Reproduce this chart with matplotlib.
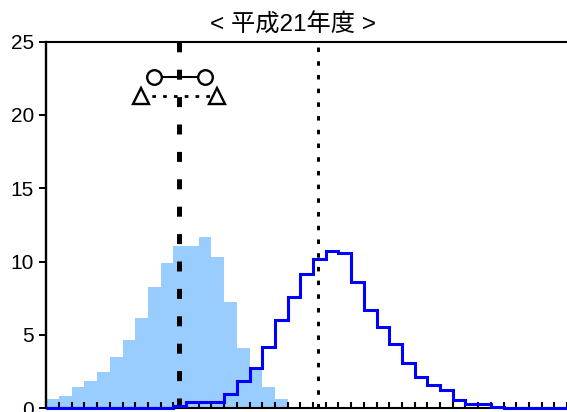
import numpy as np
import matplotlib
matplotlib.use("Agg")
import matplotlib.pyplot as plt

# Score-class frequency (%) for two groups, one value per class interval
class_edges = np.arange(0, 42)  # 41 class intervals
group_a = [0.63, 0.86, 1.47, 1.86, 2.47, 3.50, 4.68, 6.16, 8.27, 9.90,
           11.09, 11.09, 11.70, 10.34, 7.27, 4.13, 2.80, 1.47, 0.63, 0.10,
           0.10, 0, 0, 0, 0, 0, 0, 0, 0, 0,
           0, 0, 0, 0, 0, 0, 0, 0, 0, 0, 0]
group_b = [0, 0, 0, 0, 0, 0, 0, 0, 0, 0,
           0.15, 0.41, 0.41, 0.41, 0.97, 1.86, 2.72, 4.15, 6.02, 7.57,
           9.18, 10.18, 10.74, 10.61, 8.59, 6.72, 5.56, 4.40, 3.12, 2.16,
           1.58, 1.28, 0.55, 0.28, 0.28, 0.10, 0, 0, 0, 0, 0]

mean_a = 10.46
mean_b = 21.42
sd_range = [8.44, 12.46]       # mean ± 1 SD
wide_range = [7.47, 13.43]     # wider band
sd_level = 22.6
wide_level = 21.3

y_ticks = [0, 5, 10, 15, 20, 25]
title = "< 平成21年度 >"

W, H = 567, 412
fig = plt.figure(figsize=(W / 100, H / 100), dpi=100)
left_px, right_px = 46.4, 567.0
top_px, bottom_px = 41.6, 408.3
ax = fig.add_axes([left_px / W, (H - bottom_px) / H,
                   (right_px - left_px) / W, (bottom_px - top_px) / H])

bin_px = 12.93
ax.set_xlim(0, (right_px - left_px) / bin_px)
ax.set_ylim(0, 25)

ax.stairs(group_a, class_edges, fill=True, color="#99CCFF", lw=0, zorder=1)
ax.stairs(group_b, class_edges, color="#0000FF", lw=2.2, zorder=4,
          clip_on=False, baseline=None)

ax.plot([mean_a, mean_a], [0, 25], color="black", lw=3.6,
        ls=(0, (2.0, 3.48)), solid_capstyle="butt", dash_capstyle="butt", zorder=3)
ax.plot([mean_b, mean_b], [0, 25], color="black", lw=2.16,
        ls=(0, (1.5, 3.07)), dash_capstyle="butt", zorder=3)

ax.plot(sd_range, [sd_level, sd_level], color="black", lw=1.5, ls="-",
        marker="o", ms=10.5, mfc="white", mec="black", mew=1.7, zorder=5)
ax.plot(wide_range, [wide_level, wide_level], color="black", lw=2.0,
        ls=(0, (1.33, 2.56)), dash_capstyle="butt",
        marker="^", ms=11, mfc="white", mec="black", mew=1.7, zorder=5)

ax.spines["right"].set_visible(False)
ax.spines["left"].set_linewidth(1.7)
ax.spines["top"].set_linewidth(1.5)
ax.spines["bottom"].set_linewidth(1.5)

ax.set_yticks(y_ticks)
ax.set_yticklabels([str(v) for v in y_ticks], family="Liberation Sans", fontsize=15)
ax.tick_params(axis="y", direction="out", length=5, width=1.4, pad=4)
ax.set_xticks(class_edges[1:])
ax.tick_params(axis="x", direction="in", length=4.3, width=1.5, labelbottom=False)

fig.text(293 / W, 1 - 25 / H, title, ha="center", va="center", fontsize=17.5,
         family=["Liberation Sans", "Noto Sans CJK JP"])

fig.savefig("out.png", dpi=100)
